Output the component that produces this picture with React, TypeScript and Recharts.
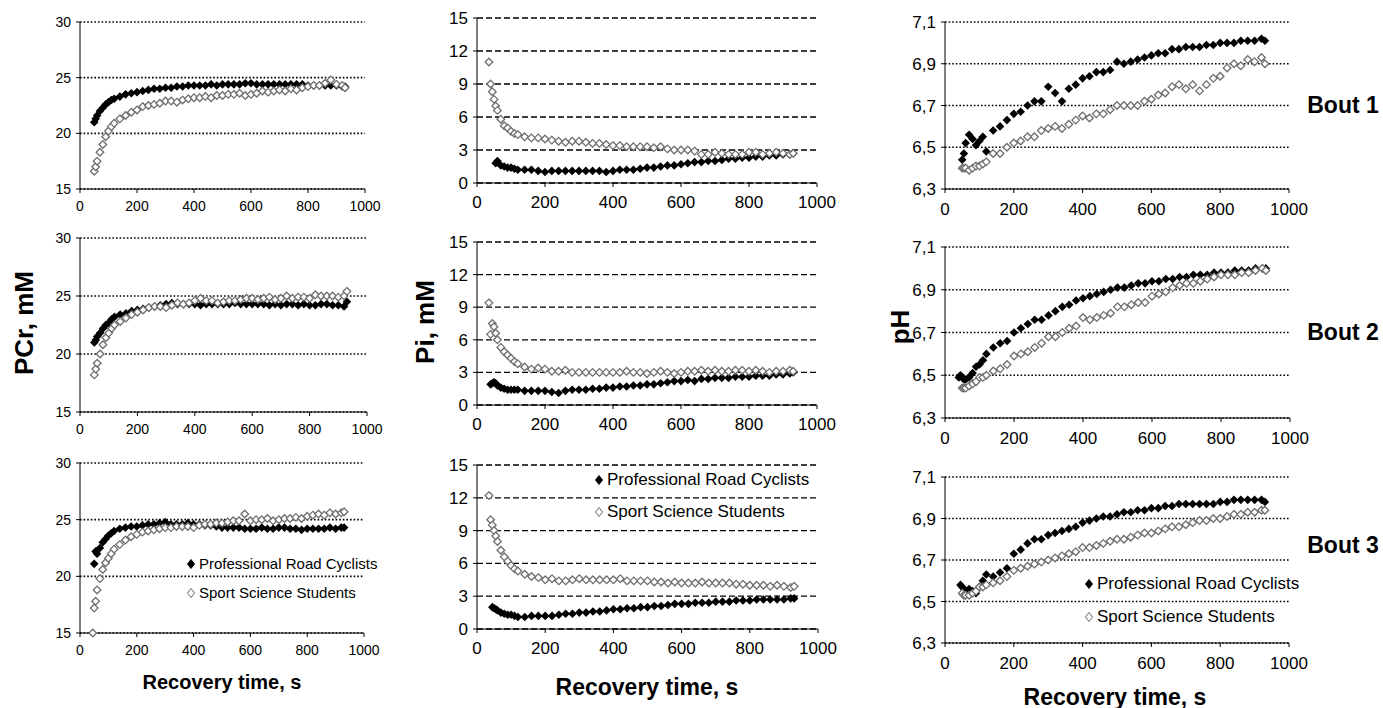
import React from 'react';
import { CartesianGrid, Legend, Scatter, ScatterChart, XAxis, YAxis } from 'recharts';

const FONT = '"Liberation Sans", Arial, Helvetica, sans-serif';

// recovery time (s) shared by all series
const recoveryTime = [
  35, 40, 45, 50, 55, 60,
  70, 80, 90, 100, 110, 120,
  140, 160, 180, 200, 220, 240, 260, 280, 300,
  320, 340, 360, 380, 400, 420, 440, 460, 480, 500,
  520, 540, 560, 580, 600, 620, 640, 660, 680, 700,
  720, 740, 760, 780, 800, 820, 840, 860, 880, 900,
  920, 930
];

const timeTicks = [0, 200, 400, 600, 800, 1000];
const pcrTicks = [15, 20, 25, 30];
const piTicks = [0, 3, 6, 9, 12, 15];
const phTicks = [6.3, 6.5, 6.7, 6.9, 7.1];
const groupNames = ['Professional Road Cyclists', 'Sport Science Students'];
const boutLabels = ['Bout 1', 'Bout 2', 'Bout 3'];

// PCr, mM
const pcrPros1 = [
  null, null, null, 21.0, 21.3, 21.6,
  22.0, 22.3, 22.6, 22.8, 23.0, 23.1,
  23.3, 23.5, 23.6, 23.7, 23.8, 23.9, 24.0, 24.0, 24.1,
  24.1, 24.2, 24.2, 24.3, 24.3, 24.3, 24.3, 24.4, 24.3, 24.4,
  24.4, 24.4, 24.4, 24.5, 24.5, 24.4, 24.4, 24.4, 24.4, 24.4,
  24.4, 24.4, 24.4, 24.4, 24.3, 24.3, 24.3, 24.3, 24.3, 24.3,
  24.2, 24.2
];
const pcrStudents1 = [
  null, null, null, 16.6, 17.0, 17.5,
  18.3, 19.0, 19.7, 20.2, 20.6, 20.9,
  21.3, 21.6, 21.9, 22.1, 22.4, 22.5, 22.6, 22.7, 22.9,
  22.9, 22.8, 23.0, 23.1, 23.2, 23.2, 23.3, 23.2, 23.4, 23.4,
  23.5, 23.5, 23.6, 23.4, 23.5, 23.6, 23.8, 23.7, 23.8, 23.9,
  23.8, 24.0, 23.9, 24.1, 24.2, 24.3, 24.3, 24.5, 24.8, 24.4,
  24.3, 24.1
];
const pcrPros2 = [
  null, null, null, 21.0, 21.2, 21.5,
  21.8, 22.2, 22.5, 22.7, 23.0, 23.2,
  23.4, 23.5, 23.7, 23.8, 23.9, 24.0, 24.1, 24.2, 24.3,
  24.4, 24.3, 24.3, 24.3, 24.3, 24.2, 24.3, 24.3, 24.3, 24.3,
  24.3, 24.4, 24.3, 24.3, 24.3, 24.3, 24.3, 24.2, 24.3, 24.2,
  24.3, 24.3, 24.2, 24.3, 24.2, 24.2, 24.3, 24.3, 24.2, 24.2,
  24.1, 24.5
];
const pcrStudents2 = [
  null, null, null, 18.2, 18.7, 19.2,
  20.0, 20.8, 21.4, 21.8, 22.2, 22.5,
  22.8, 23.1, 23.4, 23.6, 23.8, 24.0, 24.1, 24.1, 24.0,
  24.2, 24.4, 24.3, 24.4, 24.6, 24.8, 24.6, 24.6, 24.4, 24.5,
  24.6, 24.6, 24.7, 24.8, 24.8, 24.7, 24.8, 24.9, 24.7, 24.8,
  25.0, 24.8, 24.9, 24.9, 24.8, 25.1, 25.0, 25.0, 25.0, 24.9,
  25.0, 25.4
];
const pcrPros3 = [
  null, null, null, 21.1, 22.2, 22.0,
  22.5, 23.0, 23.3, 23.6, 23.8, 24.0,
  24.2, 24.3, 24.4, 24.4, 24.5, 24.6, 24.6, 24.7, 24.8,
  24.6, 24.6, 24.6, 24.7, 24.6, 24.6, 24.5, 24.5, 24.4, 24.3,
  24.3, 24.3, 24.3, 24.2, 24.2, 24.2, 24.3, 24.2, 24.2, 24.3,
  24.3, 24.2, 24.2, 24.1, 24.2, 24.2, 24.2, 24.2, 24.3, 24.2,
  24.3, 24.3
];
const pcrStudents3 = [
  null, null, 15.0, 17.2, 17.8, 18.8,
  19.8, 20.6, 21.2, 21.6, 22.0, 22.4,
  22.8, 23.2, 23.5, 23.7, 23.9, 24.0, 24.1, 24.2, 24.3,
  24.3, 24.4, 24.4, 24.4, 24.3, 24.5, 24.6, 24.6, 24.7, 24.7,
  24.8, 24.9, 24.9, 25.5, 24.9, 25.0, 25.0, 25.1, 24.9, 25.0,
  25.1, 25.1, 25.2, 25.1, 25.3, 25.4, 25.5, 25.4, 25.6, 25.5,
  25.6, 25.7
];

// Pi, mM
const piPros1 = [
  null, null, null, null, 1.8, 2.0,
  1.6, 1.5, 1.4, 1.4, 1.3, 1.2,
  1.2, 1.2, 1.1, 1.0, 1.1, 1.1, 1.1, 1.1, 1.1,
  1.1, 1.1, 1.1, 1.0, 1.1, 1.2, 1.2, 1.2, 1.3, 1.4,
  1.4, 1.5, 1.6, 1.6, 1.7, 1.8, 1.9, 1.9, 2.0, 2.0,
  2.1, 2.2, 2.2, 2.3, 2.3, 2.4, 2.4, 2.5, 2.5, 2.6,
  2.6, 2.7
];
const piStudents1 = [
  11.0, 9.0, 8.3, 7.6, 7.0, 6.6,
  5.8, 5.2, 5.0, 4.7, 4.5, 4.4,
  4.2, 4.1, 4.1, 4.0, 3.9, 3.8, 3.7, 3.8, 3.8,
  3.7, 3.6, 3.6, 3.5, 3.4, 3.4, 3.3, 3.3, 3.3, 3.3,
  3.2, 3.3, 3.1, 3.0, 3.0, 3.0, 2.9, 2.6, 2.6, 2.8,
  2.7, 2.6, 2.6, 2.6, 2.8, 2.8, 2.6, 2.7, 2.8, 2.7,
  2.6, 2.7
];
const piPros2 = [
  null, 1.9, 2.0, 2.1, 2.0, 1.8,
  1.6, 1.5, 1.4, 1.4, 1.4, 1.4,
  1.3, 1.3, 1.3, 1.3, 1.2, 1.1, 1.3, 1.4, 1.4,
  1.4, 1.5, 1.5, 1.6, 1.6, 1.7, 1.7, 1.8, 1.8, 1.9,
  1.9, 2.0, 2.1, 2.2, 2.2, 2.3, 2.2, 2.4, 2.4, 2.5,
  2.5, 2.5, 2.6, 2.6, 2.6, 2.7, 2.7, 2.7, 2.8, 2.8,
  2.9, 3.0
];
const piStudents2 = [
  9.4, 6.5, 7.5, 7.2, 6.6, 6.0,
  5.3, 4.9, 4.6, 4.3, 4.0, 3.8,
  3.5, 3.3, 3.4, 3.3, 3.1, 3.1, 3.2, 3.0, 3.0,
  3.0, 3.0, 3.0, 3.0, 3.0, 3.0, 3.1, 3.0, 3.0, 2.9,
  3.0, 3.1, 3.0, 2.9, 3.0, 3.1, 3.1, 3.2, 3.1, 3.2,
  3.1, 3.1, 3.2, 3.2, 3.1, 3.2, 3.1, 3.0, 3.1, 3.1,
  3.2, 3.1
];
const piPros3 = [
  null, null, 2.0, 1.9, 1.8, 1.7,
  1.5, 1.4, 1.3, 1.3, 1.2, 1.1,
  1.1, 1.2, 1.2, 1.2, 1.2, 1.3, 1.4, 1.4, 1.5,
  1.5, 1.6, 1.6, 1.7, 1.8, 1.8, 1.9, 1.9, 2.0, 2.0,
  2.1, 2.1, 2.2, 2.3, 2.3, 2.3, 2.4, 2.4, 2.4, 2.5,
  2.5, 2.5, 2.6, 2.6, 2.6, 2.7, 2.7, 2.7, 2.7, 2.7,
  2.8, 2.8
];
const piStudents3 = [
  12.2, 10.0, 9.5, 9.0, 8.5, 8.0,
  7.2, 6.6, 6.2, 5.8, 5.5, 5.3,
  5.0, 4.8, 4.7, 4.5, 4.6, 4.4, 4.4, 4.5, 4.6,
  4.5, 4.5, 4.5, 4.5, 4.5, 4.6, 4.4, 4.4, 4.4, 4.4,
  4.3, 4.3, 4.2, 4.3, 4.2, 4.2, 4.2, 4.3, 4.2, 4.2,
  4.2, 4.2, 4.1, 4.1, 4.0, 4.0, 4.0, 3.9, 4.0, 3.9,
  3.8, 3.9
];

// pH
const phPros1 = [
  null, null, null, 6.44, 6.47, 6.52,
  6.56, 6.54, 6.51, 6.53, 6.55, 6.48,
  6.58, 6.60, 6.63, 6.66, 6.67, 6.70, 6.72, 6.72, 6.79,
  6.76, 6.72, 6.78, 6.80, 6.83, 6.84, 6.86, 6.86, 6.87, 6.91,
  6.90, 6.91, 6.92, 6.93, 6.94, 6.95, 6.95, 6.97, 6.97, 6.98,
  6.98, 6.98, 6.99, 6.99, 7.00, 7.00, 7.00, 7.01, 7.01, 7.01,
  7.02, 7.01
];
const phStudents1 = [
  null, null, null, 6.40, 6.40, 6.40,
  6.39, 6.40, 6.41, 6.41, 6.42, 6.43,
  6.47, 6.47, 6.50, 6.52, 6.53, 6.55, 6.55, 6.58, 6.59,
  6.60, 6.59, 6.61, 6.63, 6.65, 6.64, 6.66, 6.66, 6.68, 6.70,
  6.70, 6.70, 6.70, 6.72, 6.73, 6.75, 6.76, 6.79, 6.80, 6.78,
  6.80, 6.77, 6.80, 6.83, 6.84, 6.88, 6.90, 6.89, 6.92, 6.91,
  6.93, 6.90
];
const phPros2 = [
  null, 6.49, 6.50, 6.49, 6.48, 6.48,
  6.49, 6.51, 6.54, 6.55, 6.57, 6.60,
  6.63, 6.65, 6.66, 6.70, 6.72, 6.74, 6.76, 6.76, 6.78,
  6.80, 6.82, 6.83, 6.85, 6.86, 6.87, 6.88, 6.89, 6.90, 6.91,
  6.91, 6.92, 6.93, 6.93, 6.94, 6.94, 6.95, 6.95, 6.96, 6.96,
  6.97, 6.97, 6.97, 6.98, 6.98, 6.98, 6.99, 6.99, 6.99, 7.00,
  7.00, 7.00
];
const phStudents2 = [
  null, null, null, 6.44, 6.44, 6.44,
  6.45, 6.46, 6.47, 6.49, 6.49, 6.50,
  6.52, 6.53, 6.55, 6.59, 6.60, 6.61, 6.63, 6.65, 6.68,
  6.68, 6.70, 6.72, 6.73, 6.77, 6.76, 6.77, 6.78, 6.79, 6.82,
  6.82, 6.83, 6.84, 6.84, 6.87, 6.88, 6.89, 6.91, 6.92, 6.93,
  6.93, 6.94, 6.95, 6.96, 6.97, 6.97, 6.97, 6.98, 6.98, 6.99,
  7.00, 6.99
];
const phPros3 = [
  null, null, 6.58, 6.57, 6.56, 6.55,
  6.56, 6.55, 6.54, 6.57, 6.60, 6.63,
  6.62, 6.64, 6.66, 6.73, 6.75, 6.78, 6.80, 6.80, 6.82,
  6.83, 6.84, 6.85, 6.86, 6.88, 6.89, 6.90, 6.91, 6.91, 6.92,
  6.93, 6.93, 6.94, 6.94, 6.95, 6.95, 6.96, 6.96, 6.97, 6.97,
  6.97, 6.97, 6.97, 6.97, 6.98, 6.98, 6.99, 6.99, 6.99, 6.99,
  6.99, 6.98
];
const phStudents3 = [
  null, null, null, 6.54, 6.53, 6.53,
  6.53, 6.54, 6.55, 6.57, 6.57, 6.58,
  6.59, 6.60, 6.62, 6.65, 6.66, 6.67, 6.68, 6.69, 6.70,
  6.71, 6.72, 6.73, 6.74, 6.76, 6.76, 6.77, 6.78, 6.79, 6.80,
  6.80, 6.81, 6.82, 6.83, 6.83, 6.84, 6.85, 6.86, 6.86, 6.87,
  6.88, 6.89, 6.89, 6.90, 6.90, 6.91, 6.92, 6.92, 6.93, 6.93,
  6.94, 6.94
];

type Pt = { t: number; v: number };

function toPoints(values: (number | null)[]): Pt[] {
  return recoveryTime
    .map((t, i) => ({ t, v: values[i] }))
    .filter((p): p is Pt => p.v !== null && p.v !== undefined);
}

function diamondPath(cx: number, cy: number, r: number) {
  return `M${cx},${cy - r}L${cx + r},${cy}L${cx},${cy + r}L${cx - r},${cy}Z`;
}

function FilledDiamond(props: any) {
  const { cx, cy } = props;
  if (cx == null || cy == null) return null;
  return <path d={diamondPath(cx, cy, 4.3)} fill="#000" />;
}

function OpenDiamond(props: any) {
  const { cx, cy } = props;
  if (cx == null || cy == null) return null;
  return <path d={diamondPath(cx, cy, 3.8)} fill="#fff" stroke="#6e6e6e" strokeWidth={1.3} />;
}

type Box = { left: number; right: number; top: number; bottom: number };
type LegendSpec = { x: number; y: number; fontSize: number; lineH: number };

const YW = 50;
const MT = 12;
const MR = 26;
const XH = 40;

function Panel({
  box,
  domain,
  ticks,
  dash,
  gridWidth,
  tickFont,
  xGap,
  pros,
  students,
  comma,
  legend
}: {
  box: Box;
  domain: [number, number];
  ticks: number[];
  dash: string;
  gridWidth: number;
  tickFont: number;
  xGap: number;
  pros: (number | null)[];
  students: (number | null)[];
  comma?: boolean;
  legend?: LegendSpec;
}) {
  const chartLeft = box.left - YW;
  const chartTop = box.top - MT;
  const tickStyle = { fill: '#000', fontSize: tickFont, fontFamily: FONT };
  const renderLegend = (p: any) => {
    const items = p.payload || [];
    return (
      <div style={{ fontFamily: FONT, fontSize: legend!.fontSize, color: '#000' }}>
        {items.map((it: any, i: number) => (
          <div key={i} style={{ display: 'flex', alignItems: 'center', height: legend!.lineH, whiteSpace: 'nowrap' }}>
            <svg width={10} height={12} style={{ marginRight: 3 }}>
              <path
                d="M5,1.5L8.5,6L5,10.5L1.5,6Z"
                fill={i === 0 ? '#000' : '#fff'}
                stroke={i === 0 ? '#000' : '#666'}
                strokeWidth={1}
              />
            </svg>
            <span>{it.value}</span>
          </div>
        ))}
      </div>
    );
  };
  return (
    <div style={{ position: 'absolute', left: chartLeft, top: chartTop }}>
      <ScatterChart
        width={box.right - box.left + YW + MR}
        height={box.bottom - box.top + MT + XH}
        margin={{ top: MT, right: MR, bottom: 0, left: 0 }}
      >
        <CartesianGrid vertical={false} stroke="#000" strokeDasharray={dash} strokeWidth={gridWidth} />
        <XAxis
          type="number"
          dataKey="t"
          domain={[0, 1000]}
          ticks={timeTicks}
          interval={0}
          height={XH}
          tickSize={4}
          tickMargin={xGap}
          tick={tickStyle}
          axisLine={{ stroke: '#000' }}
          tickLine={{ stroke: '#000' }}
        />
        <YAxis
          type="number"
          dataKey="v"
          domain={domain}
          ticks={ticks}
          interval={0}
          width={YW}
          tickSize={4}
          tickMargin={5}
          tick={tickStyle}
          axisLine={{ stroke: '#000' }}
          tickLine={{ stroke: '#000' }}
          tickFormatter={(v: number) => (comma ? v.toFixed(1).replace('.', ',') : String(v))}
        />
        <Scatter name={groupNames[0]} data={toPoints(pros)} shape={FilledDiamond} isAnimationActive={false} />
        <Scatter name={groupNames[1]} data={toPoints(students)} shape={OpenDiamond} isAnimationActive={false} />
        {legend ? (
          <Legend
            layout="vertical"
            align="center"
            verticalAlign="middle"
            content={renderLegend}
            wrapperStyle={{ left: legend.x - chartLeft, top: legend.y - chartTop, width: 'auto' }}
          />
        ) : null}
      </ScatterChart>
    </div>
  );
}

const bold = { fontFamily: FONT, fontWeight: 700, color: '#000', whiteSpace: 'nowrap' as const };

function Rotated({ x, y, size, text }: { x: number; y: number; size: number; text: string }) {
  return (
    <div
      style={{
        ...bold,
        position: 'absolute',
        left: x,
        top: y,
        fontSize: size,
        lineHeight: 1,
        transform: 'translate(-50%, -50%) rotate(-90deg)'
      }}
    >
      {text}
    </div>
  );
}

function Centered({ x, y, size, text }: { x: number; y: number; size: number; text: string }) {
  return (
    <div
      style={{
        ...bold,
        position: 'absolute',
        left: x,
        top: y,
        fontSize: size,
        lineHeight: 1,
        transform: 'translate(-50%, -50%)'
      }}
    >
      {text}
    </div>
  );
}

const dotted = '1.6 2';
const dashed = '6 3';

export default function App() {
  return (
    <div style={{ position: 'absolute', left: 0, top: 0, width: 1383, height: 708, background: '#fff', overflow: 'hidden' }}>
      <Panel box={{ left: 80, right: 365, top: 22, bottom: 189 }} domain={[15, 30]} ticks={pcrTicks} dash={dotted} gridWidth={1.6} tickFont={14} xGap={8} pros={pcrPros1} students={pcrStudents1} />
      <Panel box={{ left: 80, right: 367, top: 238, bottom: 412 }} domain={[15, 30]} ticks={pcrTicks} dash={dotted} gridWidth={1.6} tickFont={14} xGap={8} pros={pcrPros2} students={pcrStudents2} />
      <Panel
        box={{ left: 80, right: 364, top: 463, bottom: 633 }}
        domain={[15, 30]}
        ticks={pcrTicks}
        dash={dotted}
        gridWidth={1.6}
        tickFont={14}
        xGap={8}
        pros={pcrPros3}
        students={pcrStudents3}
        legend={{ x: 186, y: 549, fontSize: 15, lineH: 29 }}
      />

      <Panel box={{ left: 477, right: 817, top: 18, bottom: 183 }} domain={[0, 15]} ticks={piTicks} dash={dashed} gridWidth={1.3} tickFont={17} xGap={9} pros={piPros1} students={piStudents1} />
      <Panel box={{ left: 477, right: 817, top: 242, bottom: 405 }} domain={[0, 15]} ticks={piTicks} dash={dashed} gridWidth={1.3} tickFont={17} xGap={9} pros={piPros2} students={piStudents2} />
      <Panel
        box={{ left: 477, right: 818, top: 465, bottom: 629 }}
        domain={[0, 15]}
        ticks={piTicks}
        dash={dashed}
        gridWidth={1.3}
        tickFont={17}
        xGap={9}
        pros={piPros3}
        students={piStudents3}
        legend={{ x: 594, y: 464, fontSize: 17, lineH: 32 }}
      />

      <Panel box={{ left: 945, right: 1289, top: 22, bottom: 189 }} domain={[6.3, 7.1]} ticks={phTicks} dash={dotted} gridWidth={1.6} tickFont={17} xGap={10} comma pros={phPros1} students={phStudents1} />
      <Panel box={{ left: 945, right: 1290, top: 247, bottom: 418 }} domain={[6.3, 7.1]} ticks={phTicks} dash={dotted} gridWidth={1.6} tickFont={17} xGap={10} comma pros={phPros2} students={phStudents2} />
      <Panel
        box={{ left: 945, right: 1289, top: 477, bottom: 643 }}
        domain={[6.3, 7.1]}
        ticks={phTicks}
        dash={dotted}
        gridWidth={1.6}
        tickFont={17}
        xGap={10}
        comma
        pros={phPros3}
        students={phStudents3}
        legend={{ x: 1084, y: 567, fontSize: 17, lineH: 33 }}
      />

      <Rotated x={24} y={323} size={26} text="PCr, mM" />
      <Rotated x={425} y={322} size={26} text="Pi, mM" />
      <Rotated x={900} y={327} size={26} text="pH" />

      <Centered x={222} y={682} size={20} text="Recovery time, s" />
      <Centered x={647} y={687} size={23} text="Recovery time, s" />
      <Centered x={1115} y={697} size={23} text="Recovery time, s" />

      <Centered x={1343} y={105} size={23} text={boutLabels[0]} />
      <Centered x={1343} y={332} size={23} text={boutLabels[1]} />
      <Centered x={1343} y={545} size={23} text={boutLabels[2]} />
    </div>
  );
}
